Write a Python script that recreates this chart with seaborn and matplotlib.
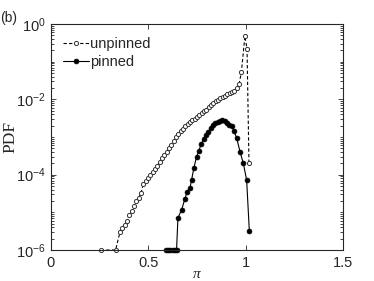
import matplotlib
matplotlib.use('Agg')
import matplotlib.pyplot as plt
import seaborn as sns
from matplotlib.ticker import LogLocator, NullFormatter, FixedLocator

# unpinned PDF (open circles, dashed)
unpinned_x = [0.255, 0.332, 0.354, 0.366, 0.378, 0.390, 0.402, 0.414, 0.426, 0.438,
              0.450, 0.462, 0.474, 0.486, 0.498, 0.510, 0.522, 0.534, 0.546, 0.558,
              0.570, 0.582, 0.594, 0.606, 0.618, 0.630, 0.642, 0.654, 0.666, 0.678,
              0.690, 0.702, 0.714, 0.726, 0.738, 0.750, 0.762, 0.774, 0.786, 0.798,
              0.810, 0.822, 0.834, 0.846, 0.858, 0.870, 0.882, 0.894, 0.906, 0.918,
              0.930, 0.942, 0.954, 0.966, 0.978, 0.996, 1.007, 1.017]
unpinned_pdf = [1.0e-6, 1.0e-6, 2.95e-6, 3.8e-6, 4.7e-6, 5.8e-6, 8.5e-6, 1.1e-5, 1.5e-5, 1.95e-5,
                2.4e-5, 3.2e-5, 5.6e-5, 6.8e-5, 8.1e-5, 1.0e-4, 1.15e-4, 1.41e-4, 1.74e-4, 2.14e-4,
                2.69e-4, 3.31e-4, 4.07e-4, 5.13e-4, 6.31e-4, 7.76e-4, 9.8e-4, 1.17e-3, 1.41e-3, 1.62e-3,
                1.91e-3, 2.19e-3, 2.45e-3, 2.82e-3, 3.09e-3, 3.47e-3, 3.80e-3, 4.27e-3, 4.79e-3, 5.37e-3,
                6.17e-3, 6.92e-3, 7.94e-3, 8.91e-3, 9.77e-3, 1.07e-2, 1.17e-2, 1.26e-2, 1.35e-2, 1.45e-2,
                1.55e-2, 1.70e-2, 1.95e-2, 2.51e-2, 5.25e-2, 0.479, 0.219, 2.04e-4]

# pinned PDF (filled dots, solid)
pinned_x = [0.590, 0.600, 0.610, 0.628, 0.637, 0.645, 0.652, 0.671, 0.688, 0.700,
            0.714, 0.722, 0.734, 0.748, 0.760, 0.772, 0.784, 0.796, 0.808, 0.820,
            0.832, 0.844, 0.856, 0.868, 0.880, 0.892, 0.904, 0.916, 0.928, 0.940,
            0.954, 0.971, 0.988, 1.005, 1.019]
pinned_pdf = [1.0e-6, 1.0e-6, 1.0e-6, 1.0e-6, 1.0e-6, 1.0e-6, 7.1e-6, 1.17e-5, 2.29e-5, 3.55e-5,
              4.47e-5, 7.2e-5, 1.51e-4, 3.02e-4, 4.37e-4, 6.6e-4, 8.7e-4, 1.12e-3, 1.38e-3, 1.78e-3,
              2.04e-3, 2.29e-3, 2.51e-3, 2.69e-3, 2.75e-3, 2.69e-3, 2.40e-3, 2.14e-3, 1.91e-3, 1.45e-3,
              9.3e-4, 4.07e-4, 2.0e-4, 7.2e-5, 3.1e-6]

x_ticks = [0, 0.5, 1, 1.5]
x_tick_labels = ["0", "0.5", "1", "1.5"]
y_ticks = [1e-6, 1e-4, 1e-2, 1e0]
y_tick_labels = [r"$\mathregular{10^{-6}}$", r"$\mathregular{10^{-4}}$",
                 r"$\mathregular{10^{-2}}$", r"$\mathregular{10^{0}}$"]

sns.set_style("ticks")
plt.rcParams['font.family'] = ['Liberation Sans', 'DejaVu Sans']
plt.rcParams['mathtext.fontset'] = 'custom'
plt.rcParams['mathtext.rm'] = 'Liberation Sans'
plt.rcParams['mathtext.it'] = 'Liberation Sans:italic'

axcol = "#262626"
fig = plt.figure(figsize=(3.74, 2.81), dpi=100)
ax = fig.add_axes([51 / 374, 1 - 250 / 281, 292 / 374, 226 / 281])

sns.lineplot(x=unpinned_x, y=unpinned_pdf, ax=ax, sort=False, estimator=None,
             color="black", linestyle=(0, (3, 2)), linewidth=0.8,
             marker="o", markersize=3, markerfacecolor="white",
             markeredgecolor="#333333", markeredgewidth=0.7,
             label="unpinned", clip_on=False)
sns.lineplot(x=pinned_x, y=pinned_pdf, ax=ax, sort=False, estimator=None,
             color="black", linestyle="-", linewidth=0.8,
             marker="o", markersize=3.5, markerfacecolor="black",
             markeredgecolor="black", markeredgewidth=0.5,
             label="pinned", clip_on=False)

ax.set_yscale("log")
ax.set_xlim(0, 1.5)
ax.set_ylim(1e-6, 1)
ax.yaxis.set_major_locator(FixedLocator(y_ticks))
ax.set_yticklabels(y_tick_labels)
ax.yaxis.set_minor_locator(LogLocator(base=10, subs=[1, 2, 3, 4, 5, 6, 7, 8, 9], numticks=20))
ax.yaxis.set_minor_formatter(NullFormatter())
ax.set_xticks(x_ticks)
ax.set_xticklabels(x_tick_labels)

for s in ax.spines.values():
    s.set_visible(True)
    s.set_color(axcol)
    s.set_linewidth(0.8)
ax.tick_params(which="both", direction="in", top=True, right=True,
               colors=axcol, labelsize=10.5, width=0.6)
ax.tick_params(which="major", length=3.5, pad=4)
ax.tick_params(which="minor", length=2)
for lab in ax.get_xticklabels() + ax.get_yticklabels():
    lab.set_color(axcol)

ax.set_xlabel("π", family=["Liberation Serif"], style="italic", fontsize=11, color=axcol)
ax.xaxis.set_label_coords(0.5, -0.08)
ax.set_ylabel("PDF", family=["Liberation Serif"], fontsize=12.5, color=axcol)
ax.yaxis.set_label_coords(-0.11, 0.5)

leg = ax.legend(loc="upper left", bbox_to_anchor=(0.01, 0.98), frameon=False,
                fontsize=10.5, handlelength=1.8, handletextpad=0.1,
                labelspacing=0.25, borderaxespad=0.2)
for t in leg.get_texts():
    t.set_color(axcol)

fig.text(0.0, 1 - 22 / 281, "(b)", fontsize=10, color=axcol, ha="left", va="baseline")

fig.savefig("out.png", dpi=100)
plt.close(fig)
